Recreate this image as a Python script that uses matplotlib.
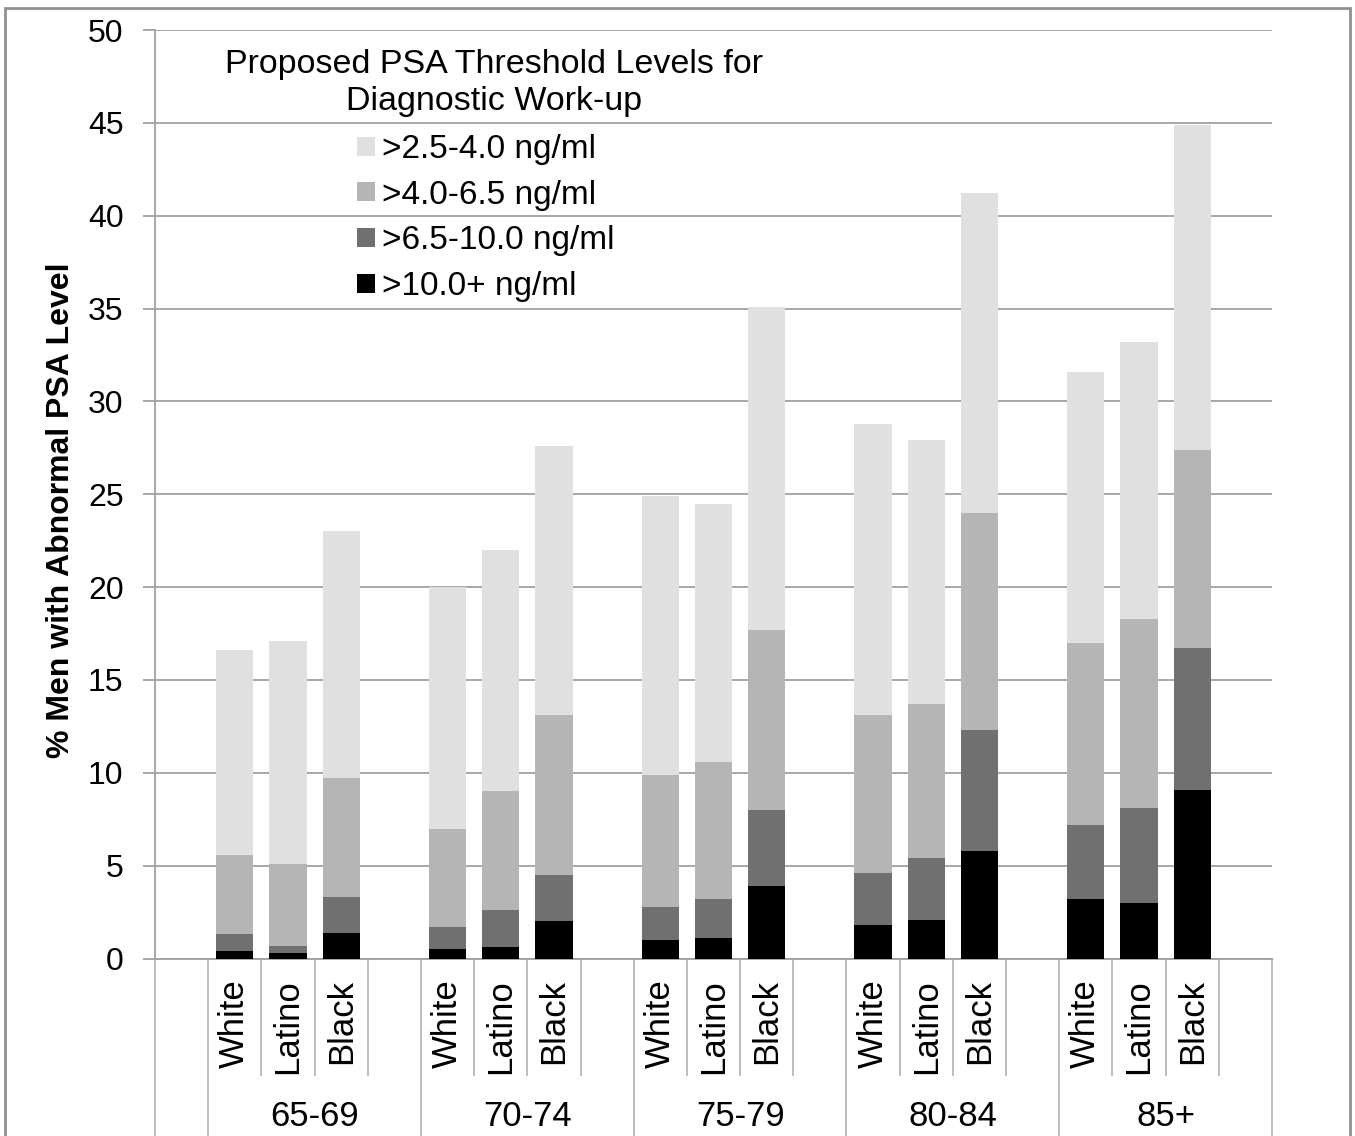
import numpy as np
import matplotlib
matplotlib.use('Agg')
import matplotlib.pyplot as plt
import matplotlib.transforms as mtransforms
from matplotlib.patches import Patch, Rectangle

plt.rcParams['font.family'] = ['Liberation Sans', 'DejaVu Sans']

age_groups = ['65-69', '70-74', '75-79', '80-84', '85+']
races = ['White', 'Latino', 'Black']

# cumulative % of men above each threshold, per age group: [White, Latino, Black]
above_2_5 = [[16.6, 17.1, 23.0], [20.0, 22.0, 27.6], [24.9, 24.5, 35.1], [28.8, 27.9, 41.2], [31.6, 33.2, 44.9]]
above_4_0 = [[5.6, 5.1, 9.7], [7.0, 9.0, 13.1], [9.9, 10.6, 17.7], [13.1, 13.7, 24.0], [17.0, 18.3, 27.4]]
above_6_5 = [[1.3, 0.7, 3.3], [1.7, 2.6, 4.5], [2.8, 3.2, 8.0], [4.6, 5.4, 12.3], [7.2, 8.1, 16.7]]
above_10 = [[0.4, 0.3, 1.4], [0.5, 0.6, 2.0], [1.0, 1.1, 3.9], [1.8, 2.1, 5.8], [3.2, 3.0, 9.1]]

series_labels = ['>2.5-4.0 ng/ml', '>4.0-6.5 ng/ml', '>6.5-10.0 ng/ml', '>10.0+ ng/ml']
colors = ['#e0e0e0', '#b5b5b5', '#707070', '#000000']

W, H = 1355, 1136
fig = plt.figure(figsize=(W / 100, H / 100), dpi=100)
ax = fig.add_axes([155 / W, 1 - 958.5 / H, (1272 - 155) / W, (958.5 - 30) / H])

# slot layout: one blank slot, then per age group 3 races + 1 blank
n_slots = 1 + 4 * len(age_groups)
x_pos = [1 + 4 * g + r for g in range(len(age_groups)) for r in range(3)]

for vals, col in zip([above_2_5, above_4_0, above_6_5, above_10], colors):
    flat = [v for grp in vals for v in grp]
    ax.bar(x_pos, flat, width=0.7, color=col, edgecolor='none', zorder=3)

ax.set_xlim(-0.5, n_slots - 0.5)
ax.set_ylim(0, 50)
ax.set_yticks(np.arange(0, 51, 5))
ax.yaxis.grid(True, color='#a0a0a0', linewidth=1.3, zorder=0)
ax.set_xticks([])
for s in ['top', 'right']:
    ax.spines[s].set_visible(False)
for s in ['left', 'bottom']:
    ax.spines[s].set_color('#a0a0a0')
    ax.spines[s].set_linewidth(1.3)
ax.tick_params(axis='y', length=8.6, color='#a0a0a0', width=1.3, pad=14, labelsize=23)
ax.set_ylabel('% Men with Abnormal PSA Level', fontsize=23, fontweight='bold')
ax.yaxis.set_label_coords(-0.071, 0.483)

# multi-level category axis below the plot
trans = mtransforms.blended_transform_factory(ax.transData, fig.transFigure)
y_axis = 1 - 958.5 / H
y_short = 1 - 1075 / H
line_kw = dict(color='#b8b8b8', linewidth=1.3, clip_on=False, transform=trans)
ax.plot([-0.5, -0.5], [0, y_axis], **line_kw)
for g in range(len(age_groups)):
    start = 0.5 + 4 * g
    ax.plot([start, start], [0, y_axis], **line_kw)
    for k in range(1, 4):
        ax.plot([start + k, start + k], [y_short, y_axis], **line_kw)
ax.plot([n_slots - 0.5, n_slots - 0.5], [0, y_axis], **line_kw)

for g, age in enumerate(age_groups):
    for r, race in enumerate(races):
        ax.text(1 + 4 * g + r, 1 - 979 / H, race, rotation=90, ha='center', va='top',
                fontsize=25, transform=trans)
    ax.text(2.5 + 4 * g, 1 - 1117 / H, age, ha='center', va='center', fontsize=25, transform=trans)

# legend
fig.text(494 / W, 1 - 83 / H, 'Proposed PSA Threshold Levels for\nDiagnostic Work-up',
         ha='center', va='center', fontsize=24.5, linespacing=1.27)
handles = [Patch(facecolor=c, edgecolor='none') for c in colors]
ax.legend(handles, series_labels, loc='upper left', bbox_to_anchor=(357 / W, 1 - 134 / H),
          bbox_transform=fig.transFigure, frameon=False, fontsize=24, borderpad=0,
          borderaxespad=0, handlelength=0.54, handleheight=0.51, handletextpad=0.2,
          labelspacing=0.44)

# outer chart border
fig.patches.append(Rectangle((5 / W, -0.05), 1345 / W, 1.05 - 8 / H, transform=fig.transFigure,
                             fill=False, edgecolor='#909090', linewidth=2))

fig.savefig('out.png', dpi=100)
